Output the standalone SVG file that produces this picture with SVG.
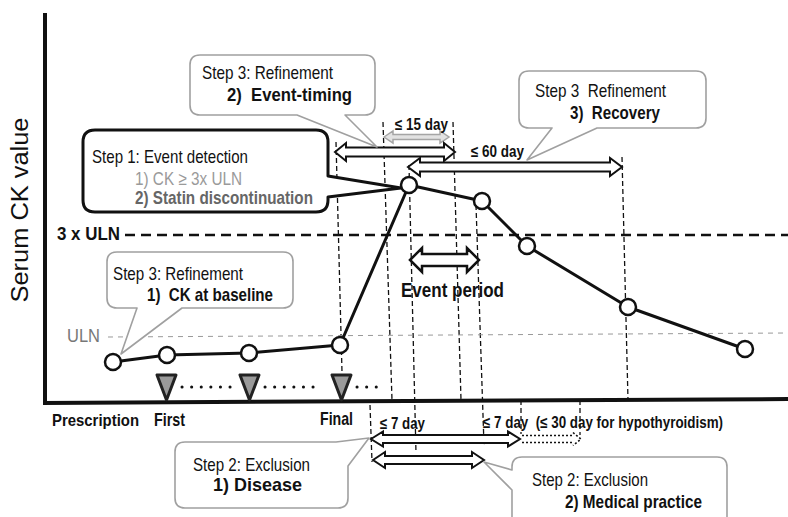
<svg xmlns="http://www.w3.org/2000/svg" width="788" height="517" viewBox="0 0 788 517">
<defs>
<style>
text{font-family:"Liberation Sans",Arial,sans-serif;fill:#111}
.b{font-weight:bold}
.n{font-size:18.5px}
.s{font-size:16px;font-weight:bold}
.call{fill:#fff;stroke:#a0a0a0;stroke-width:1.6;stroke-linejoin:round}
.vd{stroke:#111;stroke-width:1.3;stroke-dasharray:5 3;fill:none}
.pt{fill:#fff;stroke:#111;stroke-width:2.5}
.blk{fill:#fff;stroke:#111;stroke-width:2;stroke-linejoin:miter}
.tri{fill:#9a9a9a;stroke:#222;stroke-width:3;stroke-linejoin:round}
.dots{stroke:#111;stroke-width:3;stroke-linecap:round;stroke-dasharray:0.1 9.5;fill:none}
</style>
</defs>
<rect width="788" height="517" fill="#fff"/>

<g id="guides">
  <line class="vd" x1="336" y1="142" x2="342" y2="372"/>
  <line class="vd" x1="383" y1="122" x2="392" y2="400"/>
  <line class="vd" x1="409" y1="165" x2="416" y2="453"/>
  <line class="vd" x1="453" y1="122" x2="461" y2="400"/>
  <line class="vd" x1="476" y1="205" x2="484" y2="445"/>
  <line class="vd" x1="622" y1="157" x2="628" y2="400"/>
  <line class="vd" x1="370" y1="405" x2="372" y2="462"/>
  <line class="vd" x1="521" y1="400" x2="521" y2="434"/>
  <line class="vd" x1="580" y1="400" x2="580" y2="435"/>
  <line x1="125" y1="235" x2="788" y2="235" stroke="#111" stroke-width="2.5" stroke-dasharray="10 6"/>
  <line x1="108" y1="337" x2="788" y2="333" stroke="#999" stroke-width="1" stroke-dasharray="5 5"/>
</g>

<g id="axes" stroke="#111" fill="none">
  <line x1="45" y1="13" x2="45" y2="405" stroke-width="4"/>
  <line x1="43" y1="403" x2="788" y2="399" stroke-width="4"/>
</g>

<g id="axis-labels">
  <text transform="translate(28,210) rotate(-90)" text-anchor="middle" style="font-size:23px" textLength="185" lengthAdjust="spacingAndGlyphs">Serum CK value</text>
  <text class="n b" x="57" y="240" textLength="63" lengthAdjust="spacingAndGlyphs">3 x ULN</text>
  <text class="n" x="67" y="342" style="fill:#777" textLength="33" lengthAdjust="spacingAndGlyphs">ULN</text>
  <text class="b" x="52" y="426" style="font-size:16.5px" textLength="87" lengthAdjust="spacingAndGlyphs">Prescription</text>
  <text class="n b" x="154" y="426" textLength="31" lengthAdjust="spacingAndGlyphs">First</text>
  <text class="n b" x="320" y="425" textLength="33" lengthAdjust="spacingAndGlyphs">Final</text>
</g>

<g id="prescriptions">
  <path class="tri" d="M157,375 H176 L166.5,400 Z"/>
  <path class="tri" d="M240,375 H259 L249.5,400 Z"/>
  <path class="tri" d="M332,375 H351 L341.5,400 Z"/>
  <line class="dots" x1="182" y1="387" x2="232" y2="387"/>
  <line class="dots" x1="265" y1="387" x2="320" y2="387"/>
  <line class="dots" x1="357" y1="387" x2="385" y2="387"/>
</g>

<g id="connectors">
  <polyline points="113,362 167,355 249,353 340,345 409,185 482,201 527,246 628,307 745,349" fill="none" stroke="#111" stroke-width="3" stroke-linejoin="round"/>
</g>

<g id="data-points">
  <circle class="pt" cx="113" cy="362" r="8"/>
  <circle class="pt" cx="167" cy="355" r="8"/>
  <circle class="pt" cx="249" cy="353" r="8"/>
  <circle class="pt" cx="340" cy="345" r="8"/>
  <circle class="pt" cx="409" cy="185" r="8"/>
  <circle class="pt" cx="482" cy="201" r="8"/>
  <circle class="pt" cx="527" cy="246" r="8"/>
  <circle class="pt" cx="628" cy="307" r="8"/>
  <circle class="pt" cx="745" cy="349" r="8"/>
</g>

<g id="intervals">
  <path d="M384,137 L393,131 V134.5 H440 V131 L449,137 L440,143 V139.5 H393 V143 Z" fill="#e2e2e2" stroke="#a5a5a5" stroke-width="1.5"/>
  <path class="blk" d="M335,152 L346,143 V147.5 H444 V143 L455,152 L444,161 V156.5 H346 V161 Z"/>
  <path class="blk" d="M408,167 L420,158 V162.5 H610 V158 L622,167 L610,176 V171.5 H420 V176 Z"/>
  <path class="blk" d="M410,260 L422,248 V254 H467 V248 L479,260 L467,272 V266 H422 V272 Z" style="stroke-width:2.5"/>
  <path class="blk" d="M371,439 L383,431.5 V435 H508 V431.5 L520,439 L508,446.5 V443 H383 V446.5 Z"/>
  <path d="M522,435.5 H573 M522,442.5 H573 M573,432.5 L581,439 L573,445.5" fill="none" stroke="#111" stroke-width="1.6" stroke-dasharray="2 2"/>
  <path class="blk" d="M373,460 L385,452 V456 H472 V452 L484,460 L472,468 V464 H385 V468 Z"/>
  <text class="s" x="395" y="130" textLength="53" lengthAdjust="spacingAndGlyphs">≤ 15 day</text>
  <text class="s" x="471" y="157" textLength="53" lengthAdjust="spacingAndGlyphs">≤ 60 day</text>
  <text class="b" x="401" y="297" style="font-size:21px" textLength="103" lengthAdjust="spacingAndGlyphs">Event period</text>
  <text class="s" x="380" y="429" textLength="45" lengthAdjust="spacingAndGlyphs">≤ 7 day</text>
  <text class="s" x="483" y="428" textLength="240" lengthAdjust="spacingAndGlyphs">≤ 7 day&#160; (≤ 30 day for hypothyroidism)</text>
</g>

<g id="step1-event-detection">
  <path d="M95,130 H316 Q328,130 328,142 V176 L401,188 L328,197 V200 Q328,212 316,212 H95 Q83,212 83,200 V142 Q83,130 95,130 Z" fill="#fff" stroke="#111" stroke-width="3" stroke-linejoin="round"/>
  <text class="n" x="92" y="163" textLength="156" lengthAdjust="spacingAndGlyphs">Step 1: Event detection</text>
  <text class="n" x="135" y="185" style="fill:#9a9a9a" textLength="107" lengthAdjust="spacingAndGlyphs">1) CK ≥ 3x ULN</text>
  <text class="n b" x="135" y="204" style="fill:#666" textLength="178" lengthAdjust="spacingAndGlyphs">2) Statin discontinuation</text>
</g>

<g id="step3-event-timing">
  <path class="call" d="M200,55 H365 Q375,55 375,65 V105 Q375,115 365,115 H345 L377,147 L297,115 H200 Q190,115 190,105 V65 Q190,55 200,55 Z"/>
  <text class="n" x="202" y="79" textLength="131" lengthAdjust="spacingAndGlyphs">Step 3: Refinement</text>
  <text class="n b" x="227" y="101" textLength="125" lengthAdjust="spacingAndGlyphs">2)&#160; Event-timing</text>
</g>

<g id="step3-recovery">
  <path class="call" d="M529,71 H696 Q706,71 706,81 V118 Q706,128 696,128 H597 L527,160 L552,128 H529 Q519,128 519,118 V81 Q519,71 529,71 Z"/>
  <text class="n" x="535" y="97" textLength="131" lengthAdjust="spacingAndGlyphs">Step 3&#160; Refinement</text>
  <text class="n b" x="570" y="119" textLength="90" lengthAdjust="spacingAndGlyphs">3)&#160; Recovery</text>
</g>

<g id="step3-ck-baseline">
  <path class="call" d="M117,252 H283 Q293,252 293,262 V298 Q293,308 283,308 H182 L121,354 L137,308 H117 Q107,308 107,298 V262 Q107,252 117,252 Z"/>
  <text class="n" x="113" y="280" textLength="130" lengthAdjust="spacingAndGlyphs">Step 3: Refinement</text>
  <text class="n b" x="147" y="301" textLength="126" lengthAdjust="spacingAndGlyphs">1)&#160; CK at baseline</text>
</g>

<g id="step2-disease">
  <path class="call" d="M185,442 H336 L369,438 L348,466 V498 Q348,508 338,508 H185 Q175,508 175,498 V452 Q175,442 185,442 Z"/>
  <text class="n" x="193" y="471" textLength="117" lengthAdjust="spacingAndGlyphs">Step 2: Exclusion</text>
  <text class="n b" x="213" y="491" textLength="89" lengthAdjust="spacingAndGlyphs">1) Disease</text>
</g>

<g id="step2-medical-practice">
  <path class="call" d="M522,457 H717 Q727,457 727,467 V530 H512 V490 L484,462 L512,470 V467 Q512,457 522,457 Z"/>
  <text class="n" x="532" y="486" textLength="116" lengthAdjust="spacingAndGlyphs">Step 2: Exclusion</text>
  <text class="n b" x="565" y="508" textLength="137" lengthAdjust="spacingAndGlyphs">2) Medical practice</text>
</g>
</svg>
